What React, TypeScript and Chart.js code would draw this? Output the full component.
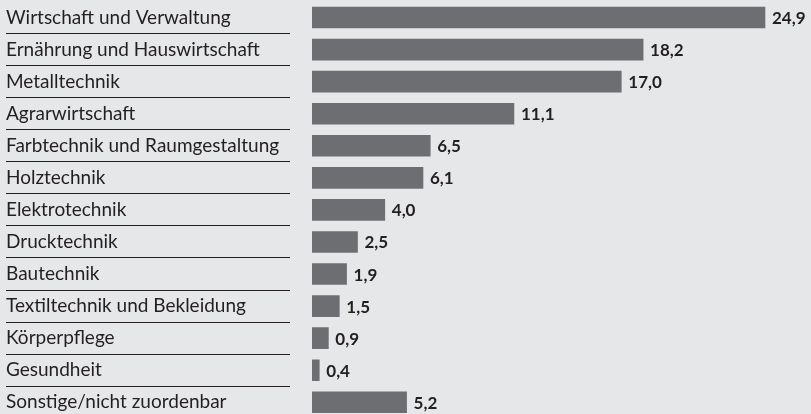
import React, { useEffect, useRef } from "react";
import { Chart, registerables } from "chart.js";

Chart.register(...registerables);

const categories = [
  "Wirtschaft und Verwaltung",
  "Ernährung und Hauswirtschaft",
  "Metalltechnik",
  "Agrarwirtschaft",
  "Farbtechnik und Raumgestaltung",
  "Holztechnik",
  "Elektrotechnik",
  "Drucktechnik",
  "Bautechnik",
  "Textiltechnik und Bekleidung",
  "Körperpflege",
  "Gesundheit",
  "Sonstige/nicht zuordenbar",
];
const values = [24.9, 18.2, 17.0, 11.1, 6.5, 6.1, 4.0, 2.5, 1.9, 1.5, 0.9, 0.4, 5.2];
const valueLabels = ["24,9", "18,2", "17,0", "11,1", "6,5", "6,1", "4,0", "2,5", "1,9", "1,5", "0,9", "0,4", "5,2"];

const BG = "#e6e7e8";
const BAR = "#6d6e71";
const TEXT = "#231f20";
const FONT = "Lato";

export default function App() {
  const ref = useRef<HTMLCanvasElement | null>(null);
  useEffect(() => {
    if (!ref.current) return;
    const bgPlugin = {
      id: "bg",
      beforeDraw(chart: any) {
        const { ctx, width, height } = chart;
        ctx.save();
        ctx.fillStyle = BG;
        ctx.fillRect(0, 0, width, height);
        ctx.restore();
      },
    };
    const decoPlugin = {
      id: "deco",
      afterDatasetsDraw(chart: any) {
        const { ctx } = chart;
        const meta = chart.getDatasetMeta(0);
        const yScale = chart.scales.y;
        ctx.save();
        ctx.strokeStyle = TEXT;
        ctx.lineWidth = 1;
        for (let i = 0; i < categories.length - 1; i++) {
          const y0 = yScale.getPixelForValue(i);
          const y1 = yScale.getPixelForValue(i + 1);
          const y = Math.round((y0 + y1) / 2 - 0.5) + 0.5;
          ctx.beginPath();
          ctx.moveTo(6, y);
          ctx.lineTo(290, y);
          ctx.stroke();
        }
        ctx.fillStyle = TEXT;
        ctx.textAlign = "left";
        ctx.textBaseline = "middle";
        ctx.font = `19px ${FONT}`;
        categories.forEach((c, i) => {
          ctx.fillText(c, 6, yScale.getPixelForValue(i));
        });
        ctx.font = `bold 17px ${FONT}`;
        meta.data.forEach((bar: any, i: number) => {
          ctx.fillText(valueLabels[i], bar.x + 7, bar.y + 1);
        });
        ctx.restore();
      },
    };
    const chart = new Chart(ref.current, {
      type: "bar",
      data: {
        labels: categories,
        datasets: [
          {
            data: values,
            backgroundColor: BAR,
            barThickness: 21,
            borderWidth: 0,
          },
        ],
      },
      options: {
        indexAxis: "y",
        animation: false,
        responsive: false,
        events: [],
        layout: { padding: { left: 312, right: 26, top: 1.5, bottom: 5.7 } },
        plugins: { legend: { display: false }, tooltip: { enabled: false } },
        scales: {
          x: { display: false, min: 0, max: 26 },
          y: { display: false },
        },
      },
      plugins: [bgPlugin, decoPlugin],
    });
    return () => chart.destroy();
  }, []);
  return (
    <div style={{ position: "fixed", left: 0, top: 0, width: 811, height: 414, overflow: "hidden", background: BG }}>
      <canvas ref={ref} width={811} height={424} style={{ display: "block" }} />
    </div>
  );
}
